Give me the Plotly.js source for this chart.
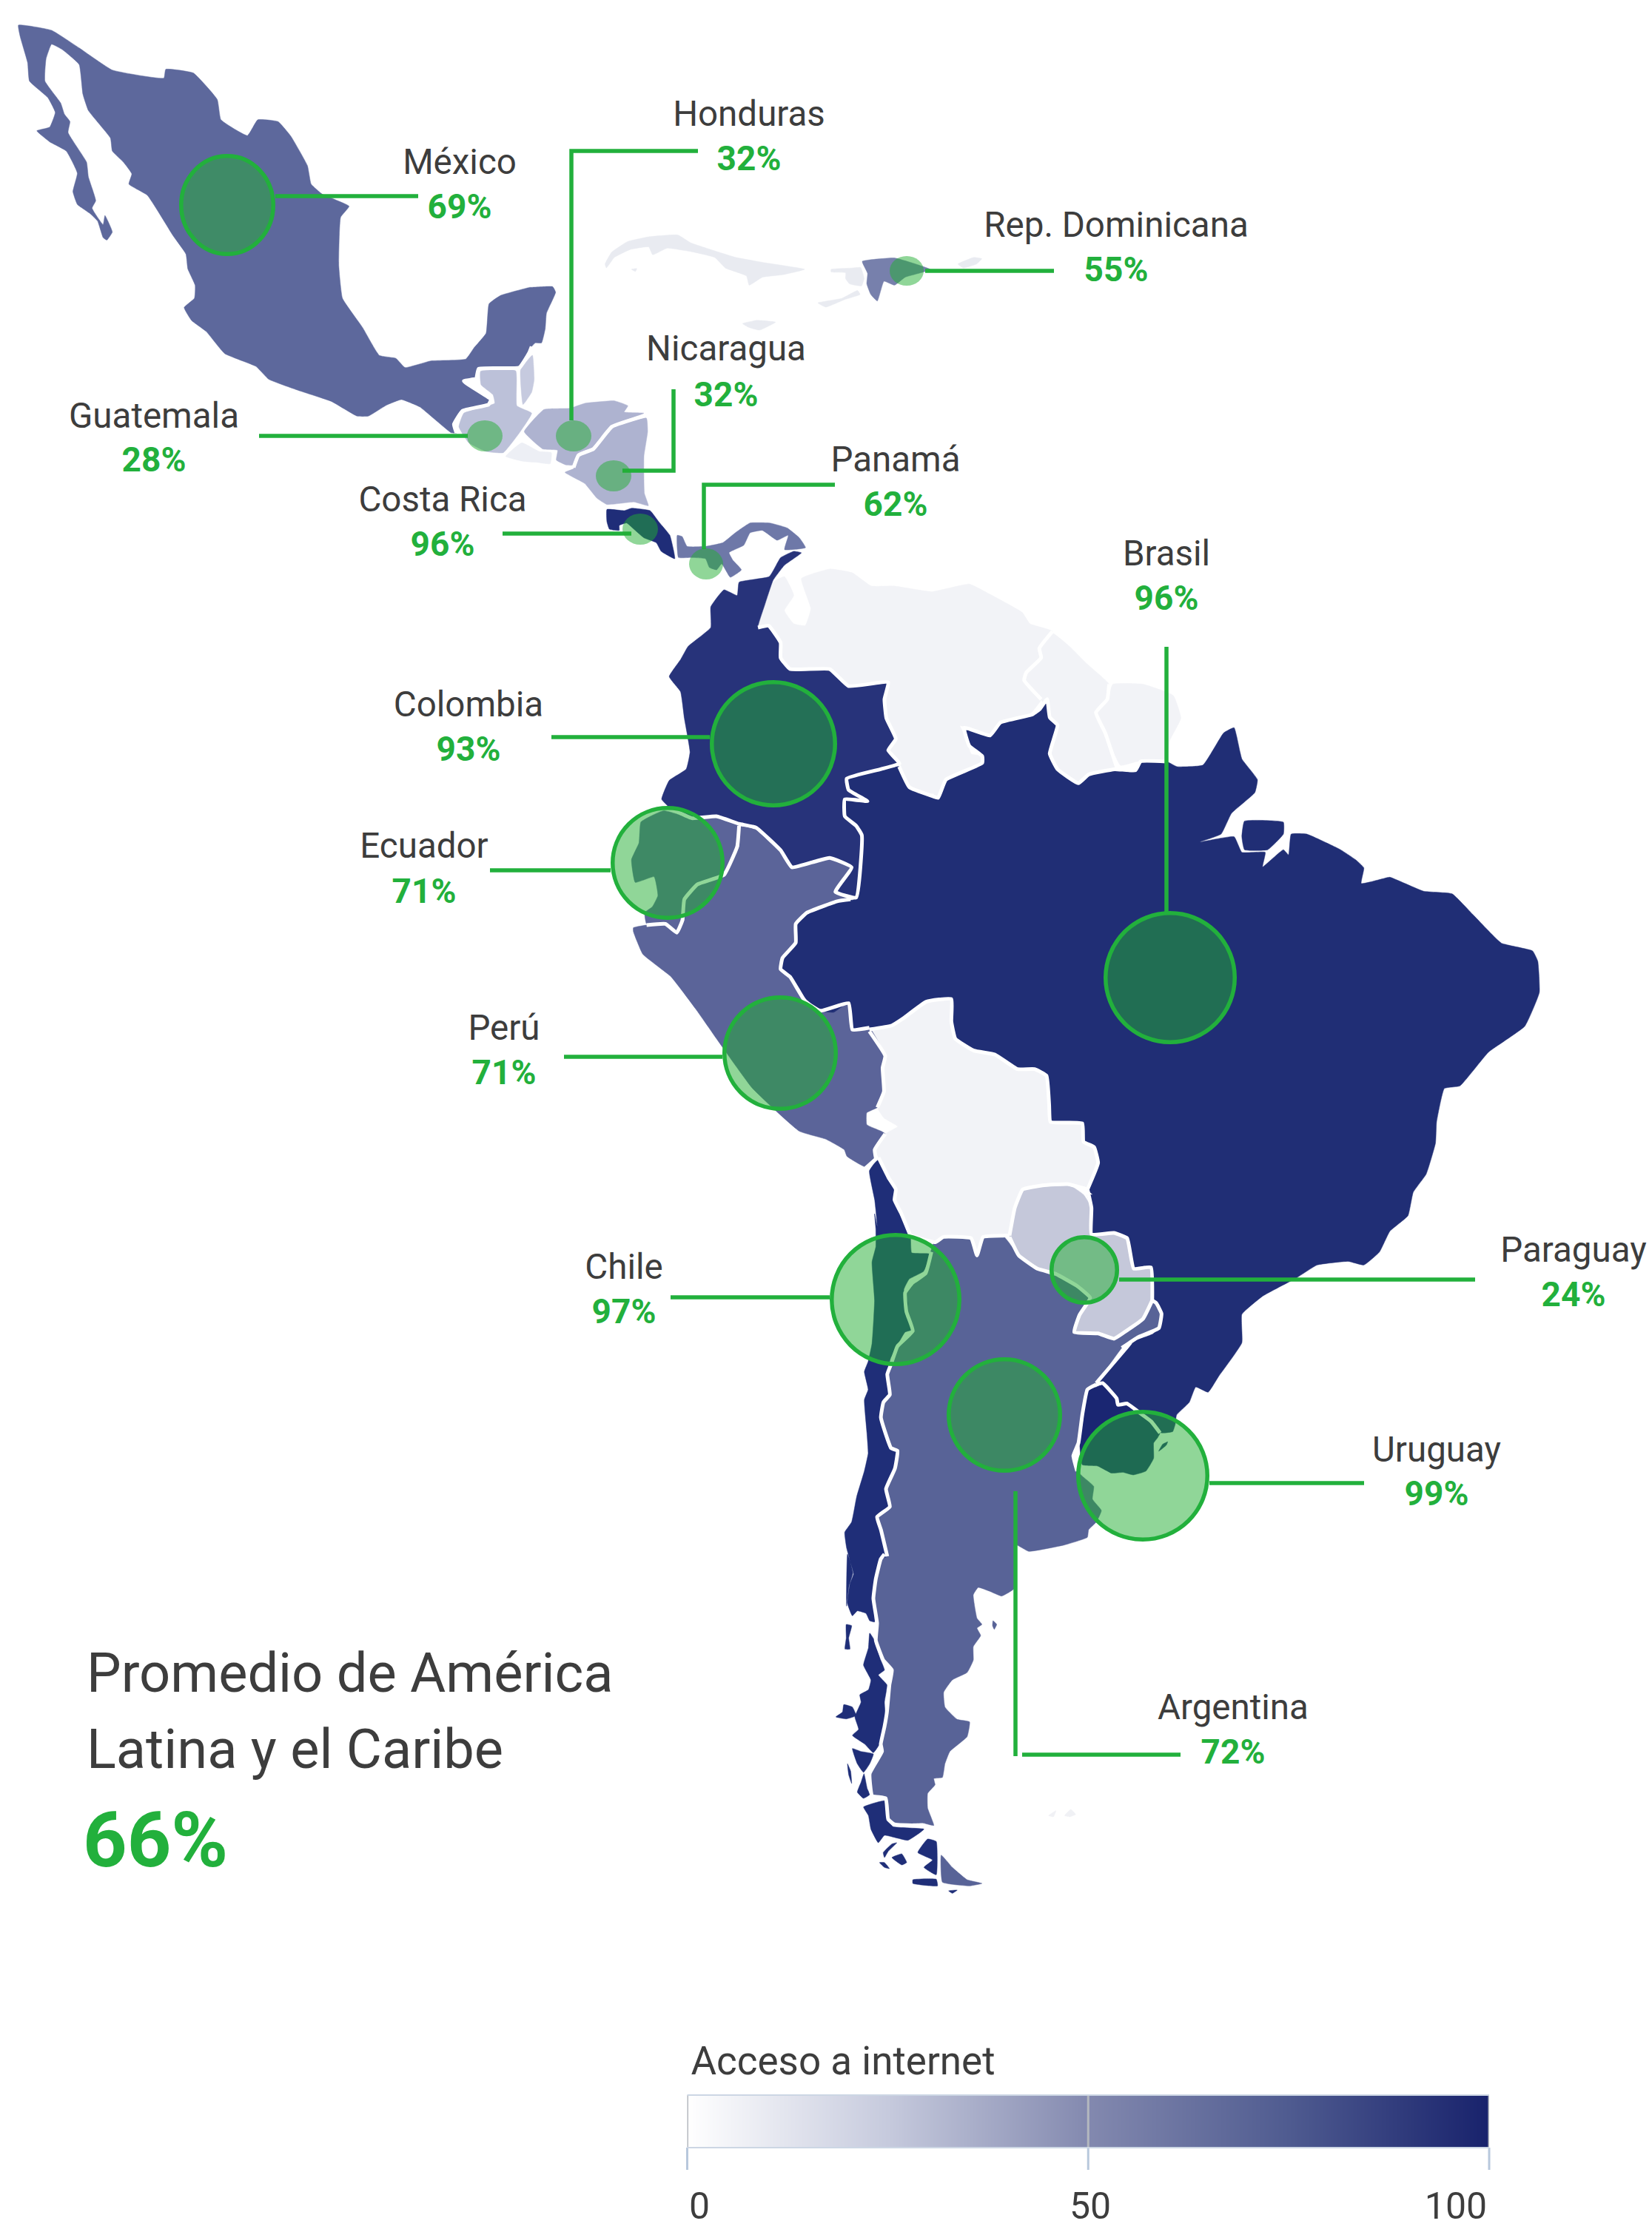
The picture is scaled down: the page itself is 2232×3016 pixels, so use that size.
<!DOCTYPE html><html><head><meta charset="utf-8"><script src="https://cdn.plot.ly/plotly-3.0.1.min.js"></script></head><body style="margin:0;background:#fff"><div id="g" style="width:2232px;height:3016px"></div><script>
const A=[0,20,2.01],B=[600,300,3],C=[780,280,2.8],D=[820,700,1.96],E=[1050,850,1.4255],F=[1080,1300,2.8],G=[1080,1640,2.904],H=[1080,2100,3];
const s=(c,p)=>p.map(q=>[c[0]+q[0]/c[2],c[1]+q[1]/c[2]]);

const mexico=[s(A,[[50,28],[140,42],[215,90],[305,150],[445,172],[450,148],[525,158],[590,230],[600,285],[672,328],[700,285],[755,290],[790,330],[835,410],[845,460],[875,487],[948,520],[925,550],[920,680],[930,770],[985,850],[1030,925],[1075,933],[1100,958],[1170,940],[1265,935],[1287,905],[1320,865],[1328,785],[1360,762],[1440,740]]).concat(s(B,[[350,265],[440,262],[452,285],[415,370],[410,432],[395,490],[370,490],[355,505],[345,530],[305,590],[140,595],[130,635],[80,645],[190,720],[180,740],[75,765],[40,820],[50,855]])).concat(s(A,[[1225,1135],[1140,1065],[1090,1045],[1050,1060],[1000,1090],[970,1090],[900,1050],[810,1020],[730,990],[695,955],[610,920],[560,860],[520,830],[500,795],[528,770],[530,735],[510,690],[505,650],[470,600],[400,490],[350,460],[358,432],[335,400],[305,370],[300,335],[240,260],[225,215],[215,135],[170,95],[140,80],[125,120],[122,180],[165,240],[175,270],[190,290],[185,320],[235,400],[240,440],[260,505],[250,525],[280,570],[285,545],[305,590],[290,612],[280,605],[265,560],[245,540],[210,515],[198,480],[210,430],[180,370],[135,345],[100,315],[135,305],[150,265],[130,225],[80,180],[75,130],[55,60]]))];
const guatemala=[s(B,[[148,605],[290,603],[295,745],[355,775],[305,855],[240,935],[170,930],[100,895],[60,830],[80,775],[205,735],[198,700],[150,660]])];
const belize=[s(B,[[358,540],[365,640],[355,690],[320,740],[310,600]])];
const honduras=[s(B,[[325,850],[405,760],[510,755],[570,735],[690,725],[745,745],[730,770],[810,775],[680,825],[640,875],[600,915],[550,935],[525,985],[495,985],[455,965],[460,925],[400,920]])];
const elSalvador=[s(B,[[250,950],[315,895],[385,930],[435,935],[430,980],[380,975],[320,970]])];
const nicaragua=[s(B,[[490,1015],[525,1000],[545,950],[610,925],[680,835],[820,795],[825,850],[810,950],[812,1100],[828,1150],[770,1135],[660,1145],[620,1120],[570,1060]])];
const costaRica=[s(B,[[660,1165],[730,1170],[760,1160],[835,1170],[870,1215],[915,1270],[930,1330],[935,1365],[880,1335],[860,1300],[810,1280],[775,1250],[740,1220],[710,1230],[710,1250],[670,1245],[660,1215]])];
const panama=[s(B,[[945,1270],[965,1275],[985,1315],[1060,1315],[1130,1300],[1180,1260],[1240,1220],[1320,1220],[1390,1240],[1440,1280],[1465,1320],[1380,1328],[1395,1270],[1350,1290],[1290,1250],[1240,1260],[1215,1310],[1155,1340],[1170,1370],[1205,1410],[1160,1440],[1125,1385],[1105,1410],[1075,1400],[1060,1365],[1000,1360],[950,1360]])];
const domRep=[s(C,[[1078,205],[1200,192],[1280,215],[1335,235],[1310,245],[1240,265],[1200,295],[1160,280],[1135,355],[1110,330],[1095,290],[1098,250]])];
const haiti=[s(C,[[960,235],[1040,230],[1072,228],[1085,270],[1075,298],[1030,290],[1015,270],[1015,248],[960,245]]),s(C,[[910,362],[1000,345],[1060,315],[1070,330],[1010,350],[940,378]])];
const cuba=[s(C,[[105,215],[130,170],[190,130],[270,112],[380,105],[430,135],[520,165],[600,190],[710,210],[860,235],[780,255],[700,265],[650,295],[640,260],[560,230],[520,190],[440,170],[340,155],[285,180],[270,150],[200,160],[140,190],[110,230]]),s(C,[[205,235],[225,232],[220,243]])];
const jamaica=[s(C,[[625,440],[680,428],[750,435],[690,465],[650,455]])];
const puertoRico=[s(C,[[1440,215],[1500,190],[1530,195],[1510,215],[1460,230]])];
const colombia=[s(D,[[515,92],[495,88],[460,105],[430,155],[350,170],[345,205],[310,190],[275,235],[275,290],[215,340],[195,375],[165,420],[195,460],[205,530],[220,620],[210,665],[165,695],[145,745],[170,770],[225,795],[290,790],[350,810],[395,820],[460,880],[490,925],[550,910],[590,900],[648,925],[605,990],[660,1005],[675,840],[660,815],[630,790],[630,745],[690,750],[640,720],[635,690],[725,665],[775,650],[745,615],[765,585],[740,530],[735,480],[745,435],[640,445],[590,400],[485,400],[460,370],[460,330],[428,285],[400,290],[418,230],[440,165],[470,125]])];
const venezuela=[s(D,[[515,160],[590,135],[650,145],[700,180],[760,180],[860,195],[960,175],[1020,205],[1100,250],[1120,280],[1180,300],[1145,345],[1150,370],[1110,410],[1105,430],[1150,480],[1110,530],[1035,548],[1015,575],[935,550],[950,580],[965,625],[1000,630],[995,650],[900,715],[870,745],[865,730],[830,735],[790,710],[775,645],[745,615],[765,585],[740,530],[735,480],[745,435],[640,445],[590,400],[485,400],[460,370],[460,330],[428,285],[400,290],[418,230],[440,170],[470,155],[495,205],[470,245],[495,280],[525,285],[540,240]])];
const guyana=[s(D,[[1180,305],[1225,340],[1270,385],[1330,440],[1325,480],[1295,515],[1320,570],[1350,660],[1275,680],[1245,705],[1190,670],[1175,610],[1195,545],[1170,520],[1150,480],[1105,430],[1110,410],[1150,370],[1145,345]])];
const guianas=[s(D,[[1340,440],[1420,440],[1500,470],[1520,530],[1490,590],[1480,655],[1405,645],[1360,655],[1320,570],[1295,515],[1325,480]])];
const ecuador=[s(D,[[90,805],[150,775],[225,795],[290,790],[350,815],[345,870],[310,945],[240,970],[205,1010],[200,1065],[185,1098],[155,1075],[105,1075],[100,1045],[120,1030],[135,1000],[125,950],[75,965],[65,905],[85,860]])];
const peru=[s(D,[[70,1085],[105,1078],[155,1078],[185,1100],[205,1065],[205,1010],[240,970],[310,945],[350,870],[350,815],[395,825],[460,885],[490,925],[550,910],[590,900],[645,925],[605,990],[650,1000],[610,1015],[530,1045],[500,1075],[500,1125],[465,1165],[460,1195],[485,1215],[525,1280],[565,1305],[640,1285],[650,1355],[695,1350]]).concat(s(F,[[325,355],[315,400],[320,490],[295,550],[255,570],[255,615],[310,640],[325,650],[285,710],[290,745],[250,775],[180,735],[170,710],[100,670],[0,640]])).concat(s(D,[[385,1510],[305,1400],[235,1300],[170,1215],[95,1155],[70,1095]]))];
const brazil=[s(E,[[235,265],[255,305],[300,322],[310,325],[325,290],[395,258],[395,245],[370,225],[360,190],[410,205],[430,180],[490,165],[505,155],[520,135],[525,170],[540,185],[525,240],[540,270],[580,297],[600,280],[650,270],[690,272],[700,255],[750,255],[770,265],[820,262],[860,200],[880,190],[895,250],[925,290],[920,315],[875,355],[855,395],[815,410],[880,400],[895,430],[940,430],[935,458],[975,425],[985,435],[990,395],[1020,395],[1085,425],[1115,445],[1130,460],[1125,490],[1170,480],[1180,478],[1245,505],[1300,510],[1340,550],[1395,605],[1455,620],[1465,640],[1468,700],[1440,765],[1370,815],[1315,880],[1285,885],[1270,950],[1268,990],[1250,1050],[1225,1085],[1215,1130],[1180,1160],[1160,1200],[1130,1225],[1100,1218],[1040,1225],[1000,1250],[935,1285],[895,1320],[895,1375],[850,1440],[830,1470]]).concat(s(G,[[1555,680],[1530,740],[1480,790],[1475,825],[1465,855],[1420,860],[1380,815],[1340,785],[1285,745],[1250,750],[1245,725],[1190,670],[1165,665],[1280,530],[1300,505],[1390,470],[1415,400],[1395,345],[1365,340],[1385,320],[1385,230],[1355,205],[1310,215],[1285,120],[1240,75],[1215,85],[1145,75]])).concat(s(F,[[1105,930],[1090,880],[1110,880],[1090,860],[1130,760],[1115,700],[1075,680],[1070,610],[950,605],[945,540],[935,430],[890,405],[825,405],[740,350],[660,335],[590,290],[575,225],[575,140],[480,150],[390,215],[350,240],[265,250],[205,262],[190,150],[130,190],[80,185],[20,135],[0,100]])).concat(s(D,[[485,1215],[460,1195],[465,1165],[500,1125],[500,1075],[530,1045],[610,1015],[655,1010],[675,840],[660,815],[630,790],[630,745],[690,750],[640,720],[635,690],[725,665]])),s(E,[[900,370],[975,372],[975,395],[945,425],[900,425],[895,400]]),s(G,[[1410,932],[1425,905],[1445,895],[1440,908]])];
const bolivia=[s(F,[[265,262],[350,240],[390,215],[480,150],[575,140],[575,225],[590,290],[660,335],[740,350],[825,405],[890,405],[935,430],[945,540],[950,605],[1070,610],[1075,680],[1115,700],[1130,760],[1090,860],[1015,840],[920,845],[845,860],[815,930],[795,1030],[770,1035],[695,1040],[672,1110],[650,1045],[545,1040],[515,1060],[420,1035],[385,950],[360,900],[365,860],[340,820],[300,740],[285,710],[325,650],[372,622],[320,590],[295,550],[320,490],[315,400],[325,355]])];
const paraguay=[s(F,[[845,860],[920,845],[1015,840],[1075,880],[1105,930],[1105,1030],[1190,1025],[1240,1045],[1265,1160],[1330,1155],[1335,1280],[1300,1350],[1230,1400],[1190,1425],[1130,1405],[1040,1400],[1060,1335],[1100,1270],[1050,1225],[970,1180],[900,1160],[830,1110],[795,1040],[815,930]])];
const uruguay=[s(G,[[1130,690],[1165,680],[1190,670],[1245,725],[1250,750],[1285,745],[1340,785],[1380,815],[1415,860],[1405,880],[1390,900],[1390,960],[1360,1010],[1310,1025],[1270,1015],[1225,1018],[1170,990],[1110,985],[1100,900],[1115,800]])];
const argentina=[s(F,[[515,1065],[545,1040],[650,1045],[672,1110],[695,1040],[770,1035],[830,1110],[900,1160],[970,1180],[1050,1225],[1100,1270],[1060,1335],[1040,1400],[1130,1405],[1190,1425],[1230,1400],[1300,1350],[1335,1280],[1350,1290],[1370,1330],[1360,1385],[1280,1420],[1220,1460]]).concat(s(G,[[1165,665],[1130,690],[1110,790],[1095,900],[1075,950],[1090,1010],[1110,1030],[1155,1070],[1150,1120],[1185,1165],[1165,1210],[1135,1240],[1130,1270],[1040,1300],[900,1325],[850,1300]])).concat(s(H,[[870,140],[820,170],[770,150],[725,135],[705,165],[720,260],[740,285],[720,300],[735,330],[705,375],[705,430],[680,480],[620,510],[585,560],[590,620],[640,670],[690,680],[680,740],[610,800],[590,850],[580,905],[545,910],[550,935],[520,970],[520,1030],[545,1100],[500,1090],[385,1095],[360,1075],[350,990],[295,980],[285,890],[335,800],[330,770],[345,700],[355,640],[365,530],[375,470],[340,430],[310,350],[315,280],[300,180],[310,100],[330,20],[345,0]])).concat(s(G,[[345,1345],[320,1240],[305,1190],[355,1150],[340,1080],[375,1000],[385,930],[360,920],[320,800],[330,740],[355,710],[345,630],[360,590],[385,520],[445,460],[420,385],[415,310],[445,270],[495,235],[515,150],[530,105]])),s(H,[[575,1220],[620,1270],[680,1320],[740,1335],[690,1345],[580,1330]]),s(H,[[785,270],[800,285],[790,305],[783,290]])];
const chile=[s(F,[[265,790],[300,745],[340,820],[365,860],[360,900],[385,950],[420,1035],[425,1100],[495,1105],[470,1170],[415,1200],[395,1240],[410,1290],[405,1340],[430,1390],[400,1400],[345,1500]]).concat(s(G,[[345,630],[355,710],[330,740],[320,800],[360,920],[385,930],[375,1000],[340,1080],[355,1150],[305,1190],[320,1240],[345,1345]])).concat(s(H,[[330,20],[310,100],[300,180],[305,275],[285,270],[270,240],[235,230],[215,250],[195,200],[205,120],[220,80],[195,0]])).concat(s(G,[[185,1540],[195,1460],[210,1410],[185,1310],[178,1250],[205,1210],[225,1110],[255,1010],[270,940],[265,860],[255,730],[270,690],[255,620],[270,580],[285,510],[295,340],[285,190],[300,130],[300,60],[295,0]])).concat(s(F,[[295,1000],[285,900]])),
 s(H,[[285,320],[305,350],[330,430],[345,470],[320,490],[355,530],[345,600],[350,690],[325,770],[300,805],[265,770],[215,735],[240,710],[225,660],[250,600],[245,570],[280,550],[290,510],[260,450],[280,380]]),
 s(H,[[148,660],[175,640],[180,610],[215,620],[230,655],[190,668]]),
 s(H,[[215,788],[250,800],[300,810],[285,850],[260,885],[235,850]]),
 s(H,[[262,890],[275,950],[285,975],[260,990],[235,965],[250,925]]),
 s(H,[[260,1025],[300,1010],[345,1000],[355,1075],[380,1105],[505,1115],[440,1160],[345,1140],[320,1170],[290,1115],[280,1060]]),
 s(H,[[190,285],[212,290],[200,340],[205,385],[185,385],[190,340]]),
 s(H,[[520,1155],[555,1165],[555,1300],[505,1270],[540,1240],[480,1210]]),
 s(H,[[460,1320],[555,1318],[560,1345],[460,1335]]),
 s(H,[[375,1230],[415,1215],[435,1250],[415,1260]]),
 s(H,[[340,1210],[375,1175],[395,1170],[360,1205],[345,1230]]),
 s(H,[[605,1365],[640,1362],[620,1375]]),
 s(H,[[325,1250],[345,1250],[365,1275],[345,1270]]),
 s(H,[[195,850],[208,880],[212,930],[200,895]])];
const falklands=[s(H,[[1010,1060],[1040,1040],[1030,1065]]),s(H,[[1075,1060],[1100,1035],[1120,1055],[1095,1065]])];

const borders=[
 s(B,[[355,505],[345,530],[305,590],[140,595],[130,635],[80,645],[190,720],[180,740],[75,765],[40,820],[50,855]]),
 s(B,[[525,995],[545,945],[605,920],[680,830],[815,785]]),
 s(D,[[400,290],[428,285],[460,330],[460,370],[485,400],[590,400],[640,445],[745,435],[735,480],[740,530],[765,585],[745,615],[775,650],[725,665],[635,690],[640,720],[690,750],[630,745],[630,790],[660,815],[675,840],[660,1005],[605,990],[648,925],[590,900],[550,910],[490,925],[460,880],[395,820],[350,810],[290,790],[225,795],[170,770]]),
 s(D,[[350,815],[345,870],[310,945],[240,970],[205,1010],[200,1065],[185,1098],[155,1075],[105,1078]]),
 s(E,[[235,265],[255,305],[300,322],[310,325],[325,290],[395,258],[395,245],[370,225],[360,190],[410,205],[430,180],[490,165],[505,155],[520,135],[525,170],[540,185],[525,240],[540,270],[580,297],[600,280],[650,270],[690,272],[700,255],[750,255]]),
 s(D,[[1180,300],[1145,345],[1150,370],[1110,410],[1105,430],[1150,480]]),
 s(D,[[1330,440],[1325,480],[1295,515],[1320,570],[1350,660]]),
 s(D,[[645,1010],[610,1015],[530,1045],[500,1075],[500,1125],[465,1165],[460,1195],[485,1215],[525,1280],[565,1305],[640,1285],[650,1355],[695,1350]]),
 s(F,[[265,262],[325,355],[315,400],[320,490],[295,550]]),
 s(F,[[325,650],[285,710],[290,745]]),
 s(F,[[250,780],[295,740]]),
 s(F,[[265,255],[350,240],[390,215],[480,150],[575,140],[575,225],[590,290],[660,335],[740,350],[825,405],[890,405],[935,430],[945,540],[950,605],[1070,610],[1075,680],[1115,700],[1130,760],[1090,860]]),
 s(F,[[1090,860],[1015,840],[920,845],[845,860],[815,930],[795,1035]]),
 s(F,[[795,1035],[770,1035],[695,1040],[672,1110],[650,1045],[545,1040],[515,1060],[420,1035]]),
 s(F,[[300,740],[340,820],[365,860],[360,900],[385,950],[420,1035]]),
 s(G,[[518,150],[495,235],[445,270],[415,310],[420,385],[445,460],[385,520],[360,590],[345,630],[355,710],[330,740],[320,800],[360,920],[385,930],[375,1000],[340,1080],[355,1150],[305,1190],[320,1240],[345,1345]]),
 s(H,[[345,0],[330,20],[310,100],[300,180],[315,280],[310,350],[340,430],[375,470],[365,530],[355,640],[345,700],[330,770],[335,800],[285,890],[295,980],[350,990],[360,1075],[385,1095],[505,1100]]),
 s(F,[[795,1040],[830,1110],[900,1160],[970,1180],[1050,1225],[1100,1270],[1060,1335],[1040,1400],[1130,1405],[1190,1425],[1230,1400],[1300,1350],[1335,1280]]),
 s(F,[[1090,860],[1105,930],[1105,1030],[1190,1025],[1240,1045],[1265,1160],[1330,1155],[1335,1280]]),
 s(F,[[1335,1280],[1350,1290],[1370,1330],[1360,1385],[1280,1420],[1220,1460]]),
 s(G,[[1300,505],[1280,530],[1165,665]]),
 s(G,[[1165,670],[1130,690],[1110,790],[1095,900],[1075,950],[1090,1010]]),
 s(G,[[1165,670],[1190,665],[1245,725],[1250,750],[1285,745],[1340,785],[1380,815],[1415,860]])
];

const countries=[mexico,guatemala,belize,honduras,elSalvador,nicaragua,costaRica,panama,domRep,haiti,cuba,jamaica,puertoRico,venezuela,guyana,guianas,bolivia,colombia,ecuador,peru,brazil,paraguay,uruguay,argentina,chile,falklands];
const countryFill=['#5d689c','#bcc1d9','#c6cadf','#aeb3d0','#edeff5','#aeb3d0','#1f2d78','#6e78a8','#7780ac','#e9ebf1','#e9ebf1','#e9ebf1','#e9ebf1','#f2f3f7','#f2f3f7','#f2f3f7','#f2f3f7','#27337a','#5b6499','#5b6499','#202e75','#c5c8da','#1a2672','#586397','#1f2e78','#f0f1f5'];

const labelNames=['México','Honduras','Rep. Dominicana','Nicaragua','Guatemala','Panamá','Costa Rica','Brasil','Colombia','Ecuador','Perú','Chile','Paraguay','Uruguay','Argentina'];
const labelPct=[69,32,55,32,28,62,96,96,93,71,71,97,24,99,72];
const labelX=[621,1012,1508,981,208,1210,598,1576,633,573,681,843,2126,1941,1666];
const nameY=[223,158,308,475,566,625,679,752,956,1147,1393,1716,1693,1963,2311];
const pctY=[283,218,368,537,625,685,739,812,1016,1208,1453,1776,1753,2022,2371];

const circleX=[307,775,1225,829,655,954,865,1581,1045,902,1054,1210,1465,1544,1357];
const circleY=[277,589,366,643,589,762,715,1321,1005,1166,1423,1756,1716,1994,1912];
const circleRx=[65,24,23,24,24,23,24,90,86,77,78,89,47,90,78];
const circleRy=[69,21,20,21,21,21,21,90,86,77,78,90,47,89,78];
const circleRing=[1,0,0,0,0,0,0,1,1,1,1,1,1,1,1];

const leaders=[[[372,565],[265,265]],[[772,772,943],[568,204,204]],[[1250,1424],[366,366]],[[841,910,910],[636,636,526]],[[350,632],[589,589]],[[951,951,1128],[742,655,655]],[[679,853],[721,721]],[[1576,1576],[874,1233]],[[745,959],[996,996]],[[662,825],[1176,1176]],[[762,976],[1428,1428]],[[906,1121],[1753,1753]],[[1512,1993],[1729,1729]],[[1634,1843],[2004,2004]],[[1372,1372],[2015,2373]],[[1381,1595],[2371,2371]]];

const scaleStops=[[0,'#ffffff'],[0.25,'#c6cadd'],[0.5,'#8389af'],[0.75,'#4f5b90'],[1,'#18226c']];
const scaleValues=[0,25,50,75,100];
const scaleTicks=[0,50,100];
const scaleTickLabels=['0','50','100'];
const scaleLabelX=[945,1473,1967];

const titleLines=['Promedio de América','Latina y el Caribe'];
const averageText='66%';

const join=pl=>{const x=[],y=[];pl.forEach(p=>{p.concat([p[0]]).forEach(q=>{x.push(q[0]);y.push(q[1])});x.push(null);y.push(null)});return{x,y}};
const joinOpen=pl=>{const x=[],y=[];pl.forEach(p=>{p.forEach(q=>{x.push(q[0]);y.push(q[1])});x.push(null);y.push(null)});return{x,y}};
const INK='#3d3d3d',GREEN='#22b03c',FONT='Roboto, sans-serif';
const traces=[];
countries.forEach((c,i)=>{const j=join(c);traces.push({type:'scatter',mode:'lines',x:j.x,y:j.y,fill:'toself',fillcolor:countryFill[i],line:{color:countryFill[i],width:0.5,shape:'spline',smoothing:0.35},hoverinfo:'skip'})});
{const j=joinOpen(borders);traces.push({type:'scatter',mode:'lines',x:j.x,y:j.y,line:{color:'#fff',width:5,simplify:false,shape:'spline',smoothing:0.35},connectgaps:false,hoverinfo:'skip'});}
leaders.forEach(l=>traces.push({type:'scatter',mode:'lines',x:l[0],y:l[1],line:{color:GREEN,width:5.5},hoverinfo:'skip'}));
traces.push({type:'scatter',mode:'text',x:labelX,y:nameY,text:labelNames,textposition:'middle center',textfont:{family:FONT,size:47.5,color:INK},hoverinfo:'skip'});
traces.push({type:'scatter',mode:'text',x:labelX,y:pctY,text:labelPct.map(v=>v+'%'),textposition:'middle center',textfont:{family:FONT,size:46,color:GREEN,weight:700},hoverinfo:'skip'});
traces.push({type:'scatter',mode:'text',x:[117,117],y:[2267,2370],text:titleLines,textposition:'middle right',textfont:{family:FONT,size:74,color:INK},hoverinfo:'skip'});
traces.push({type:'scatter',mode:'text',x:[112],y:[2496],text:[averageText],textposition:'middle right',textfont:{family:FONT,size:104,color:GREEN,weight:700},hoverinfo:'skip'});
traces.push({type:'scatter',mode:'text',x:[1139],y:[2790],text:['Acceso a internet'],textposition:'middle center',textfont:{family:FONT,size:53,color:INK},hoverinfo:'skip'});
traces.push({type:'scatter',mode:'text',x:scaleLabelX,y:[2985,2985,2985],text:scaleTickLabels,textposition:'middle center',textfont:{family:FONT,size:50,color:INK},hoverinfo:'skip'});
traces.push({type:'heatmap',xaxis:'x2',yaxis:'y2',x:scaleValues,y:[0,1],z:[scaleValues,scaleValues],zmin:0,zmax:100,zsmooth:'best',colorscale:scaleStops,showscale:false,hoverinfo:'skip'});
scaleTicks.forEach(t=>{traces.push({type:'scatter',mode:'lines',xaxis:'x2',yaxis:'y2',x:[t,t],y:[0,1],line:{color:'#b4b8bf',width:3},hoverinfo:'skip'})});

const shapes=circleX.map((cx,i)=>{const w=circleRing[i]?5.5:0,rx=circleRx[i]-w/2,ry=circleRy[i]-w/2,cyv=circleY[i];return{type:'circle',xref:'x',yref:'y',x0:cx-rx,x1:cx+rx,y0:cyv-ry,y1:cyv+ry,fillcolor:'rgba(33,173,49,0.5)',line:{color:GREEN,width:w},layer:'above'}});
scaleTicks.forEach(t=>{const xp=928.5+(2012-928.5)*t/100;shapes.push({type:'line',xref:'x',yref:'y',x0:xp,x1:xp,y0:2902,y1:2932,line:{color:'#b8c8dc',width:3},layer:'above'})});
[2831,2902].forEach(yy=>shapes.push({type:'line',xref:'x',yref:'y',x0:928.5,x1:2012,y0:yy,y1:yy,line:{color:'#ccd6e4',width:2},layer:'above'}));
const W=2232,HH=3016;
const layout={width:W,height:HH,margin:{l:0,r:0,t:0,b:0},paper_bgcolor:'#fff',plot_bgcolor:'rgba(0,0,0,0)',showlegend:false,shapes,
 xaxis:{range:[0,W],visible:false,fixedrange:true,domain:[0,1]},
 yaxis:{range:[HH,0],visible:false,fixedrange:true,domain:[0,1]},
 xaxis2:{range:[0,100],visible:false,fixedrange:true,domain:[928.5/W,2012/W],anchor:'y2'},
 yaxis2:{range:[0,1],visible:false,fixedrange:true,domain:[(HH-2902)/HH,(HH-2831)/HH],anchor:'x2'}};
Plotly.newPlot('g',traces,layout,{displayModeBar:false,staticPlot:true});
</script></body></html>
